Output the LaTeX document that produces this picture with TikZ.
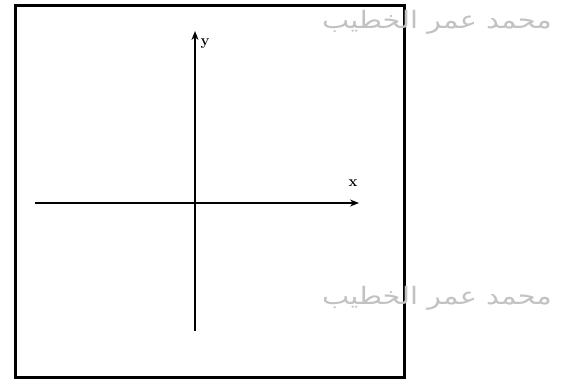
\documentclass[tikz,border=0pt]{standalone}
\usepackage{fontspec}
\usetikzlibrary{arrows.meta}
\newfontfamily\arabicfont[Script=Arabic]{DejaVu Sans}
\TeXXeTstate=1
\tikzset{
  axis/.style={line width=1.4pt,-{Stealth[length=9pt,width=7pt]}},
  frame/.style={line width=3pt},
  mark label/.style={font=\bfseries\fontsize{15}{15}\selectfont,inner sep=1pt},
  watermark/.style={text=black!24,font=\arabicfont\fontsize{24}{24}\selectfont,inner sep=0pt,xscale=1.2}
}
\begin{document}
\begin{tikzpicture}[x=1pt,y=-1pt]
\useasboundingbox (0,0) rectangle (566,380);

% ------------------------------------------------------------------
% Frame
% ------------------------------------------------------------------
\draw[frame] (15,5.5) rectangle (404.5,377.5);

% ------------------------------------------------------------------
% Axes
% ------------------------------------------------------------------
\coordinate (xl) at (35,203);
\coordinate (xr) at (359,203);
\coordinate (yb) at (195,331);
\coordinate (yt) at (195,31);

\draw[axis] (xl) -- (xr);
\draw[axis] (yb) -- (yt);

\node[mark label] (xlab) at (353,183) {x};
\node[mark label] (ylab) at (205,44) {y};

% ------------------------------------------------------------------
% Watermarks
% ------------------------------------------------------------------
\node[watermark] (wm1) at (437,22) {\beginR محمد عمر الخطيب\endR};
\node[watermark] (wm2) at (437,298) {\beginR محمد عمر الخطيب\endR};

\end{tikzpicture}
\end{document}
